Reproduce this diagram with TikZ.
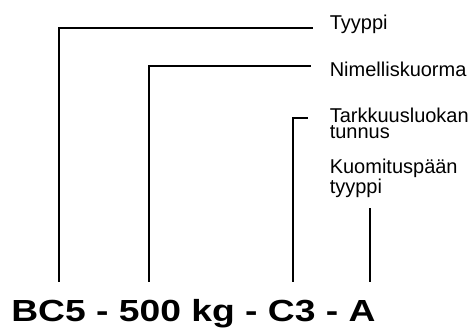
\documentclass[tikz,border=0pt]{standalone}
\usepackage{fontspec}
\setmainfont{Liberation Sans}
\begin{document}
\begin{tikzpicture}[x=0.75pt,y=-0.75pt,
  lbl/.style={anchor=base west,inner sep=0pt,font=\fontsize{15}{12}\selectfont},
  lbl2/.style={anchor=north west,inner sep=0pt,align=left,font=\fontsize{15}{12}\selectfont},
  lead/.style={line width=1.5pt}]
\useasboundingbox (0,0) rectangle (471,331);
\node[anchor=base west,inner sep=0pt,font=\fontsize{22.9}{26}\selectfont\bfseries] (code) at (11,321.7) {\scalebox{1.22}[1]{BC5 - 500 kg - C3 - A}};
\node[lbl] (l1) at (329.5,30) {Tyyppi};
\node[lbl] (l2) at (329.5,76.3) {Nimelliskuorma};
\node[lbl2] (l3) at (329.5,108) {Tarkkuusluokan\\tunnus};
\node[lbl2] (l4) at (329.5,158.5) {Kuomituspään\\tyyppi};
\coordinate (b1) at (59,282);
\coordinate (b2) at (149,282);
\coordinate (b3) at (293,282);
\coordinate (b4) at (370,282);
\coordinate (e1) at (313,28);
\coordinate (e2) at (311,66);
\coordinate (e3) at (308,118);
\coordinate (e4) at (370,208);
\draw[lead] (b1) |- (e1);
\draw[lead] (b2) |- (e2);
\draw[lead] (b3) |- (e3);
\draw[lead] (b4) -- (e4);
\end{tikzpicture}
\end{document}
